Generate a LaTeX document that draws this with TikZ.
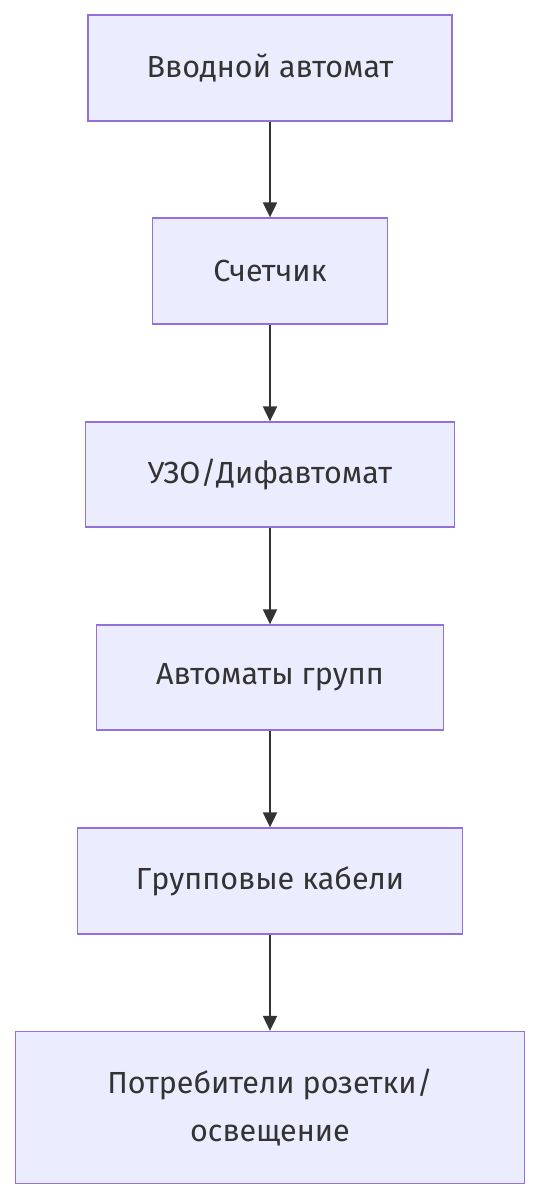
\documentclass[tikz,border=0pt]{standalone}
\usepackage{fontspec}
\setmainfont{Fira Sans}
\usetikzlibrary{arrows.meta}
\definecolor{boxfill}{HTML}{ECECFF}
\definecolor{boxline}{HTML}{9370DB}
\definecolor{ink}{HTML}{333333}
\begin{document}
\begin{tikzpicture}[x=1pt,y=-1pt,
  flowbox/.style={draw=boxline,fill=boxfill,line width=1.3pt,inner sep=0pt,
    text=ink,font=\fontsize{30.5}{48}\selectfont,align=center,anchor=center},
  flowarrow/.style={draw=ink,line width=2pt,-{Triangle[length=15pt,width=14pt]}}]
\useasboundingbox[fill=white] (0,0) rectangle (540,1200);
\node[flowbox,minimum width=364pt,minimum height=106pt] (a) at (270,68) {Вводной автомат};
\node[flowbox,minimum width=235pt,minimum height=106pt] (b) at (270,271) {Счетчик};
\node[flowbox,minimum width=369pt,minimum height=105pt] (c) at (270,474.5) {УЗО/Дифавтомат};
\node[flowbox,minimum width=347pt,minimum height=105pt] (d) at (270,677.5) {Автоматы групп};
\node[flowbox,minimum width=385pt,minimum height=106pt] (e) at (270,881) {Групповые кабели};
\node[flowbox,minimum width=509pt,minimum height=152pt] (f) at (270,1107.5) {Потребители розетки/\\освещение};
\draw[flowarrow] (a.south) -- (b.north);
\draw[flowarrow] (b.south) -- (c.north);
\draw[flowarrow] (c.south) -- (d.north);
\draw[flowarrow] (d.south) -- (e.north);
\draw[flowarrow] (e.south) -- (f.north);
\end{tikzpicture}
\end{document}
